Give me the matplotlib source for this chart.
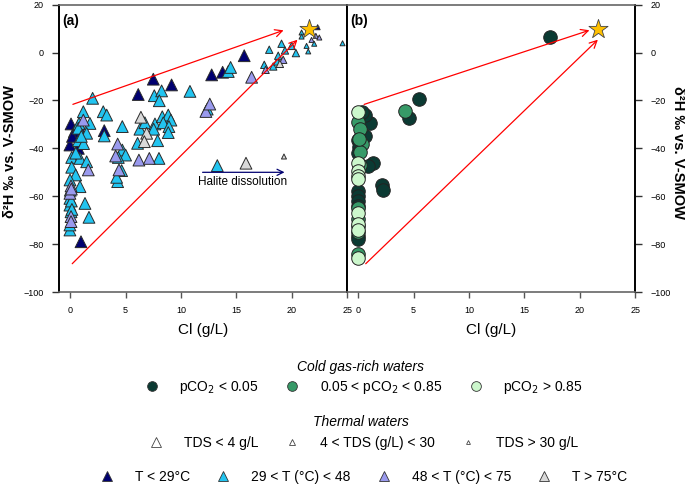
import matplotlib.pyplot as plt
from matplotlib.lines import Line2D

plt.rcParams['font.family'] = ['Liberation Sans', 'DejaVu Sans']

# ---- panel (a): thermal waters, grouped by temperature, size = TDS class (L/M/S)
navy_cl = [0.07, 0.37, 0.67, 0.75, -0.03, 0.73, 0.2, 0.97, 3.07, 6.14, 7.50, 9.15, 12.77, 13.76, 15.71, 22.34]
navy_d2h = [-29.8, -33.0, -33.7, -30.5, -38.6, -40.0, -35.0, -79.0, -32.6, -17.5, -11.1, -13.5, -9.3, -8.2, -1.3, 10.6]
navy_tds = ['L'] * 15 + ['S']

cyan_cl = [2.02, 1.18, 0.79, 1.78, 0.73, 1.48, 2.98, 3.29, 3.07, 4.70, 0.73, 0.13, 0.88, 1.48, 0.13,
           0.49, -0.02, 0.88, -0.03, -0.03, 1.33, 0.07, 1.69, -0.03, -0.03, 0.1, 0.0, 0.15, 4.70, 5.00,
           4.34, 4.64, 4.28, 4.19, 8.01, 6.08, 6.29, 6.74, 7.65, 7.53, 7.89, 8.31, 8.85, 9.09, 8.40,
           8.91, 8.85, 7.59, 8.25, 8.04, 10.81, 12.37, 14.27, 14.48, 13.28, 1.2, 0.5, 1.0,
           17.52, 18.33, 18.69, 18.78, 19.39, 19.08, 19.99, 20.38, 17.97,
           20.89, 20.89, 21.34, 21.49, 22.03, 24.59]
cyan_d2h = [-19.1, -24.7, -29.6, -29.6, -31.6, -33.7, -24.7, -26.1, -34.8, -30.9, -36.8, -43.8, -44.2, -45.6, -47.9,
            -51.1, -53.2, -56.0, -60.9, -63.7, -63.0, -66.5, -68.8, -74.1, -72.0, -62.0, -57.5, -65.5, -40.7, -42.8,
            -43.8, -49.3, -53.9, -52.1, -44.2, -37.9, -32.0, -29.3, -29.8, -32.0, -36.8, -26.8, -26.1, -28.2, -29.3,
            -30.9, -33.4, -18.0, -16.0, -20.1, -16.2, -23.6, -7.9, -6.2, -47.2, -38.0, -42.0, -35.0,
            -5.1, -5.8, -3.7, -1.3, 0.9, 3.7, 2.8, -0.2, 1.2,
            8.4, 6.7, 2.8, 0.5, 3.7, 3.9]
cyan_tds = ['L'] * 58 + ['M'] * 9 + ['S'] * 6

lav_cl = [1.18, 1.63, 0.07, -0.03, 0.07, 0.07, 0.1, 4.28, 4.10, 4.40, 6.20, 7.14, 12.25, 12.60, 16.38,
          17.64, 19.23, 21.79, 22.18, 22.49]
lav_d2h = [-28.2, -49.0, -55.7, -58.8, -68.5, -70.6, -57.0, -38.2, -43.2, -49.0, -44.9, -44.2, -24.6, -21.5, -10.3,
           -7.2, -3.0, 5.3, 7.0, 6.3]
lav_tds = ['L'] * 15 + ['M'] * 2 + ['S'] * 3

gray_cl = [6.38, 6.90, 6.69, 15.87, 18.93, 19.3]
gray_d2h = [-27.0, -33.7, -37.2, -46.2, -4.7, -43.4]
gray_tds = ['L', 'L', 'L', 'L', 'M', 'S']

# ---- panel (b): cold gas-rich waters, grouped by pCO2
low_cl = [17.3, 5.53, 4.54, 2.13, 2.28, 1.38, 0.93, 1.08, 0.63, 0.63, 0.0, 0.1, 0.0, 0.0, 0.0, 0.0, 0.0, 0.0, 0.0, 0.3]
low_d2h = [6.5, -19.5, -27.5, -55.5, -57.5, -46.2, -47.5, -29.5, -26.0, -35.0, -36.5, -39.5, -42.0,
           -58.0, -60.0, -62.0, -64.0, -76.5, -78.0, -25.0]
mid_cl = [4.24, 0.02, 0.17, 0.32, 0.17, 0.2, 0.0, 0.0, 0.0, 0.0, 0.0, 0.1]
mid_d2h = [-24.5, -29.0, -32.0, -38.0, -41.5, -47.0, -65.0, -69.5, -72.5, -75.0, -84.0, -36.0]
high_cl = [0.02, 0.02, 0.02, 0.02, 0.02, 0.0, 0.0, 0.0, 0.0]
high_d2h = [-25.0, -46.0, -49.5, -51.5, -53.0, -67.0, -71.5, -74.0, -86.0]

# seawater star and mixing arrows
sw_cl, sw_d2h = 21.6, 10.0
arrows_a = [((0.0, -22.0), (19.5, 9.7)), ((0.0, -89.0), (20.7, 6.2))]
arrows_b = [((0.3, -22.0), (21.1, 9.7)), ((0.5, -89.0), (21.8, 6.2))]
halite_arrow = ((11.7, -50.0), (19.6, -50.0))

tds_size = {'L': 72, 'M': 28, 'S': 13}
col_navy = '#000070'
col_cyan = '#22c4f0'
col_lav = '#9a9aee'
col_gray = '#d9d9d9'
col_low = '#0b3a33'
col_mid = '#379a68'
col_high = '#ccf7cc'

fig = plt.figure(figsize=(6.85, 4.87), dpi=100)
ax_a = fig.add_axes([0.0864, 0.4004, 0.4203, 0.5899])
ax_b = fig.add_axes([0.5067, 0.4004, 0.4208, 0.5899])


def style_axis(ax, side):
    ax.set_xlim(-1, 25)
    ax.set_ylim(-100, 20)
    ax.set_xticks(range(0, 26, 5))
    ax.set_yticks(range(-100, 21, 20))
    for s in ['top', 'bottom']:
        ax.spines[s].set_color('#666666')
        ax.spines[s].set_linewidth(1.2)
    for s in ['left', 'right']:
        ax.spines[s].set_color('black')
        ax.spines[s].set_linewidth(1.4)
    ax.tick_params(axis='x', direction='out', length=4, width=1, color='#555555',
                   labelsize=6.5, pad=6)
    ax.tick_params(axis='y', direction='out', length=5, width=1, color='#333333',
                   labelsize=6.5, pad=6)
    if side == 'left':
        ax.yaxis.tick_left()
    else:
        ax.yaxis.tick_right()
    ax.set_xlabel('Cl (g/L)', fontsize=11, labelpad=6)


style_axis(ax_a, 'left')
style_axis(ax_b, 'right')

for xs, ys, tds, col in [(navy_cl, navy_d2h, navy_tds, col_navy),
                         (cyan_cl, cyan_d2h, cyan_tds, col_cyan),
                         (lav_cl, lav_d2h, lav_tds, col_lav),
                         (gray_cl, gray_d2h, gray_tds, col_gray)]:
    ax_a.scatter(xs, ys, s=[tds_size[t] for t in tds], marker='^', c=col,
                 edgecolors='#2a2a2a', linewidths=0.7, zorder=3)

for xs, ys, col in [(low_cl, low_d2h, col_low), (mid_cl, mid_d2h, col_mid), (high_cl, high_d2h, col_high)]:
    ax_b.scatter(xs, ys, s=95, marker='o', c=col, edgecolors='#222222', linewidths=0.7, zorder=3)

for ax, arrs in [(ax_a, arrows_a), (ax_b, arrows_b)]:
    for start, end in arrs:
        ax.annotate('', xy=end, xytext=start,
                    arrowprops=dict(arrowstyle='->', color='red', lw=0.9, mutation_scale=13))
    ax.scatter([sw_cl], [sw_d2h], marker='*', s=210, c='#ffc000', edgecolors='#444444',
               linewidths=0.6, zorder=5)

ax_a.annotate('', xy=halite_arrow[1], xytext=halite_arrow[0],
              arrowprops=dict(arrowstyle='->', color=col_navy, lw=0.9, mutation_scale=11))
ax_a.text(15.6, -53.9, 'Halite dissolution', ha='center', va='center', fontsize=8.5)

ax_a.text(0.01, 0.945, '(a)', transform=ax_a.transAxes, fontsize=10, fontweight='bold', va='center')
ax_b.text(0.01, 0.945, '(b)', transform=ax_b.transAxes, fontsize=10, fontweight='bold', va='center')

ylab = 'δ²H ‰ vs. V-SMOW'
fig.text(0.0146, 0.688, ylab, rotation=90, ha='center', va='center', fontsize=10.5, fontweight='bold')
fig.text(0.99, 0.688, ylab, rotation=270, ha='center', va='center', fontsize=10.5, fontweight='bold')

# ---- legend block
fig.text(361 / 685, 1 - 367 / 487, 'Cold gas-rich waters', style='italic', fontsize=10,
         ha='center', va='center')
fig.text(361 / 685, 1 - 422 / 487, 'Thermal waters', style='italic', fontsize=10,
         ha='center', va='center')


def mk(marker, size, face, edge='#333333'):
    return Line2D([], [], ls='none', marker=marker, markersize=size,
                  markerfacecolor=face, markeredgecolor=edge, markeredgewidth=0.6)


leg_kw = dict(loc='center', frameon=False, fontsize=10, handlelength=1.0,
              handletextpad=1.5, columnspacing=1.9, borderpad=0, borderaxespad=0)

fig.legend([mk('o', 7, col_low), mk('o', 7, col_mid), mk('o', 7, col_high)],
           ['pCO$_2$ < 0.05', '0.05 < pCO$_2$ < 0.85', 'pCO$_2$ > 0.85'],
           ncol=3, bbox_to_anchor=(0.531, 1 - 387 / 487), **leg_kw)
fig.legend([mk('^', 6.5, 'white', '#444444'), mk('^', 4.2, 'white', '#444444'), mk('^', 2.8, 'white', '#444444')],
           ['TDS < 4 g/L', '4 < TDS (g/L) < 30', 'TDS > 30 g/L'],
           ncol=3, bbox_to_anchor=(0.531, 1 - 443 / 487), **leg_kw)
fig.legend([mk('^', 7.2, col_navy), mk('^', 7.2, col_cyan), mk('^', 7.2, col_lav), mk('^', 7.2, col_gray)],
           ['T < 29°C', '29 < T (°C) < 48', '48 < T (°C) < 75', 'T > 75°C'],
           ncol=4, bbox_to_anchor=(0.531, 1 - 477 / 487), **leg_kw)

fig.savefig('out.png', dpi=100)
